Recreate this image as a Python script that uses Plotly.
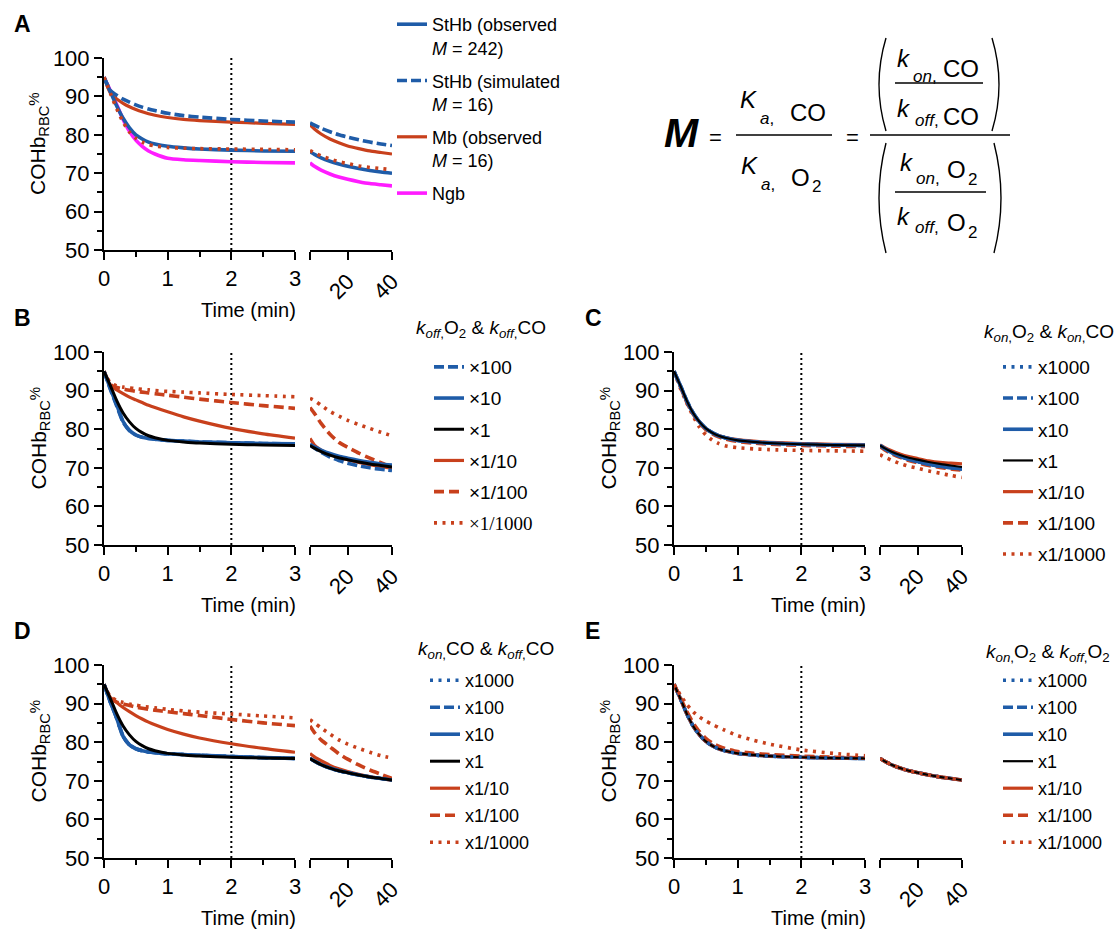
import plotly.graph_objects as go

# ---------------- data ----------------
T_SHORT = [0, 0.1, 0.2, 0.3, 0.4, 0.5, 0.6, 0.7, 0.8, 1.0, 1.25, 1.5, 2.0, 2.5, 3.0]
T_LONG = [3, 5, 8, 12, 16, 20, 25, 30, 35, 40]
REF_TIME = 2
Y_RANGE = [50, 100]
Y_TICKS = [50, 60, 70, 80, 90, 100]
Y_MINOR = [55, 65, 75, 85, 95]
X_TICKS_SHORT = [0, 1, 2, 3]
X_MINOR_SHORT = [0.5, 1.5, 2.5]
X_TICKS_LONG = [20, 40]
X_BREAK_TICK = [3]

# common x1 curve
BASE_S = [95, 91.3, 87.4, 84.2, 81.9, 80.2, 79.1, 78.3, 77.8, 77.1, 76.7, 76.4, 76.1, 75.9, 75.8]
BASE_L = [75.8, 75.1, 74.2, 73.3, 72.6, 72.1, 71.5, 71.0, 70.6, 70.2]

# panel A
A_OBS_S = [95, 91.2, 87.5, 84.3, 81.8, 80.0, 78.9, 78.1, 77.6, 77.0, 76.6, 76.3, 76.0, 75.8, 75.7]
A_OBS_L = [75.6, 74.9, 74.0, 73.1, 72.4, 71.8, 71.2, 70.7, 70.3, 70.0]
A_SIM_S = [95, 91.6, 90.3, 89.3, 88.5, 87.8, 87.2, 86.7, 86.3, 85.6, 85.0, 84.6, 84.0, 83.6, 83.3]
A_SIM_L = [83.1, 82.5, 81.7, 80.8, 80.0, 79.4, 78.7, 78.1, 77.6, 77.2]
A_MB_S = [95, 90.9, 89.3, 88.2, 87.3, 86.6, 86.0, 85.5, 85.1, 84.5, 84.0, 83.7, 83.3, 83.0, 82.7]
A_MB_L = [82.6, 81.5, 80.2, 78.9, 77.9, 77.1, 76.4, 75.8, 75.4, 75.0]
A_NGB_S = [95, 91.5, 87.8, 84.0, 80.9, 78.6, 77.0, 75.8, 75.0, 73.9, 73.5, 73.3, 73.0, 72.8, 72.7]
A_NGB_L = [72.7, 71.8, 70.8, 69.8, 69.0, 68.4, 67.8, 67.3, 67.0, 66.7]
A_DOT_S = [95, 90.8, 86.8, 83.3, 80.7, 79.1, 78.1, 77.5, 77.1, 76.7, 76.5, 76.4, 76.3, 76.2, 76.1]
A_DOT_L = [75.9, 75.3, 74.5, 73.7, 73.0, 72.5, 71.9, 71.5, 71.2, 70.9]

# panel B
B_X100_S = [95, 90.3, 86.0, 81.8, 79.6, 78.5, 77.9, 77.6, 77.4, 77.1, 76.9, 76.7, 76.5, 76.3, 76.2]
B_X100_L = [76.0, 75.1, 74.0, 72.8, 71.9, 71.2, 70.5, 70.0, 69.6, 69.3]
B_X10_S = [95, 90.5, 86.3, 82.0, 79.7, 78.5, 77.9, 77.6, 77.4, 77.1, 76.9, 76.7, 76.5, 76.3, 76.2]
B_X10_L = [76.1, 75.4, 74.6, 73.7, 73.0, 72.5, 71.9, 71.4, 71.0, 70.7]
B_X1_10_S = [95, 91.3, 90.2, 89.2, 88.3, 87.6, 86.9, 86.2, 85.6, 84.5, 83.2, 82.1, 80.2, 78.8, 77.7]
B_X1_10_L = [77.6, 75.9, 74.6, 73.5, 72.7, 72.1, 71.4, 70.8, 70.3, 69.9]
B_X1_100_S = [95, 91.6, 90.8, 90.4, 90.1, 89.8, 89.6, 89.4, 89.2, 88.8, 88.3, 87.8, 86.9, 86.1, 85.4]
B_X1_100_L = [85.6, 84.1, 81.5, 78.7, 76.6, 75.3, 73.8, 72.5, 71.3, 70.0]
B_X1_1000_S = [95, 92.0, 91.2, 90.9, 90.7, 90.5, 90.3, 90.2, 90.0, 89.8, 89.6, 89.4, 89.0, 88.7, 88.4]
B_X1_1000_L = [88.0, 87.4, 86.2, 84.6, 83.4, 82.3, 81.2, 80.2, 79.2, 78.3]

# panel C
C_BLUE_L = [75.8, 75.0, 74.0, 73.0, 72.2, 71.6, 70.9, 70.4, 70.0, 69.7]
C_X1_10_S = [95, 91.2, 87.3, 84.2, 81.9, 80.2, 79.1, 78.4, 77.9, 77.3, 76.9, 76.6, 76.3, 76.1, 76.0]
C_X1_10_L = [75.9, 75.3, 74.5, 73.6, 72.9, 72.4, 71.8, 71.4, 71.2, 71.0]
C_X1_100_S = [95, 91.0, 87.0, 83.9, 81.6, 79.9, 78.8, 78.0, 77.5, 76.8, 76.4, 76.1, 75.8, 75.6, 75.5]
C_X1_100_L = [75.5, 74.7, 73.7, 72.7, 71.9, 71.3, 70.6, 70.1, 69.7, 69.4]
C_X1_1000_S = [95, 90.6, 86.8, 83.4, 80.5, 78.5, 77.2, 76.3, 75.7, 75.2, 74.9, 74.7, 74.5, 74.4, 74.3]
C_X1_1000_L = [73.4, 72.8, 72.0, 71.1, 70.4, 69.9, 69.2, 68.6, 68.0, 67.5]

# panel D
D_BLUE_S = [95, 90.4, 86.2, 81.5, 79.3, 78.3, 77.8, 77.5, 77.3, 77.0, 76.8, 76.6, 76.3, 76.0, 75.8]
D_X1_10_S = [95, 91.6, 90.3, 89.0, 87.9, 86.9, 86.0, 85.2, 84.5, 83.3, 82.1, 81.1, 79.6, 78.4, 77.4]
D_X1_10_L = [77.1, 76.2, 75.2, 74.0, 73.1, 72.4, 71.7, 71.1, 70.6, 70.1]
D_X1_100_S = [95, 91.3, 90.4, 89.9, 89.5, 89.1, 88.8, 88.5, 88.3, 87.9, 87.4, 86.9, 85.9, 85.0, 84.3]
D_X1_100_L = [84.2, 82.5, 80.6, 78.8, 77.0, 75.6, 74.1, 72.8, 71.7, 70.6]
D_X1_1000_S = [95, 91.8, 90.8, 90.3, 89.9, 89.6, 89.3, 89.1, 88.9, 88.5, 88.1, 87.8, 87.3, 86.8, 86.3]
D_X1_1000_L = [85.8, 85.0, 83.7, 82.1, 80.6, 79.5, 78.4, 77.4, 76.5, 75.9]

# panel E
E_X1_100_S = [95, 91.5, 88.0, 85.0, 82.7, 81.0, 79.8, 79.0, 78.4, 77.6, 77.1, 76.8, 76.4, 76.1, 75.9]
E_X1_1000_S = [95, 92.2, 89.8, 87.9, 86.5, 85.5, 84.6, 83.8, 83.1, 81.7, 80.5, 79.5, 78.0, 77.1, 76.5]

# legend labels
A_NAMES = ["StHb (observed<br><i>M</i> = 242)", "StHb (simulated<br><i>M</i> = 16)",
           "Mb (observed<br><i>M</i> = 16)", "Ngb"]
B_NAMES = ["×100", "×10", "×1", "×1/10", "×1/100",
           "<span style='font-family:Liberation Serif'>×1/1000</span>"]
CDE_NAMES = ["x1000", "x100", "x10", "x1", "x1/10", "x1/100", "x1/1000"]

# ---------------- styling ----------------
FONT = "Liberation Sans, Arial, sans-serif"
W, H = 1119, 930
BLUE = "#1f5ca8"
RED = "#c8401c"
MAGENTA = "#ff1cff"
BLACK = "#000000"
STYLES = {
    "blue": dict(color=BLUE, width=3.6, dash="solid"),
    "blue_dash": dict(color=BLUE, width=3.6, dash="10px,4px"),
    "blue_dot": dict(color=BLUE, width=3.6, dash="3px,5.5px"),
    "red": dict(color=RED, width=3.2, dash="solid"),
    "red_dash": dict(color=RED, width=3.6, dash="10px,5px"),
    "red_dot": dict(color=RED, width=3.6, dash="3px,5.5px"),
    "black": dict(color=BLACK, width=3, dash="solid"),
    "black_thin": dict(color=BLACK, width=2.2, dash="solid"),
    "magenta": dict(color=MAGENTA, width=3.6, dash="solid"),
}


def px(x):
    return x / W


def py(y):
    return 1 - y / H


# pixel geometry of each panel: (seg1 x-span, seg2 x-span, y-span)
GEOM = {
    "A": ((104, 295), (310, 392), (58, 250)),
    "B": ((104, 295), (310, 392), (352, 545)),
    "C": ((674, 865), (880, 962), (352, 545)),
    "D": ((104, 295), (310, 392), (665, 858)),
    "E": ((674, 865), (880, 962), (665, 858)),
}

# series: (legend label or None, short, long, style, legend rank) in drawing order
SERIES = {
    "A": [
        (A_NAMES[3], A_NGB_S, A_NGB_L, "magenta", 4),
        (A_NAMES[2], A_MB_S, A_MB_L, "red", 3),
        (A_NAMES[1], A_SIM_S, A_SIM_L, "blue_dash", 2),
        (A_NAMES[0], A_OBS_S, A_OBS_L, "blue", 1),
        (None, A_DOT_S, A_DOT_L, "red_dot", 5),
    ],
    "B": [
        (B_NAMES[5], B_X1_1000_S, B_X1_1000_L, "red_dot", 6),
        (B_NAMES[4], B_X1_100_S, B_X1_100_L, "red_dash", 5),
        (B_NAMES[3], B_X1_10_S, B_X1_10_L, "red", 4),
        (B_NAMES[0], B_X100_S, B_X100_L, "blue_dash", 1),
        (B_NAMES[1], B_X10_S, B_X10_L, "blue", 2),
        (B_NAMES[2], BASE_S, BASE_L, "black", 3),
    ],
    "C": [
        (CDE_NAMES[6], C_X1_1000_S, C_X1_1000_L, "red_dot", 7),
        (CDE_NAMES[5], C_X1_100_S, C_X1_100_L, "red_dash", 6),
        (CDE_NAMES[4], C_X1_10_S, C_X1_10_L, "red", 5),
        (CDE_NAMES[2], BASE_S, C_BLUE_L, "blue", 3),
        (CDE_NAMES[1], BASE_S, C_BLUE_L, "blue_dash", 2),
        (CDE_NAMES[0], BASE_S, C_BLUE_L, "blue_dot", 1),
        (CDE_NAMES[3], BASE_S, BASE_L, "black_thin", 4),
    ],
    "D": [
        (CDE_NAMES[6], D_X1_1000_S, D_X1_1000_L, "red_dot", 7),
        (CDE_NAMES[5], D_X1_100_S, D_X1_100_L, "red_dash", 6),
        (CDE_NAMES[4], D_X1_10_S, D_X1_10_L, "red", 5),
        (CDE_NAMES[2], D_BLUE_S, BASE_L, "blue", 3),
        (CDE_NAMES[1], D_BLUE_S, BASE_L, "blue_dash", 2),
        (CDE_NAMES[0], D_BLUE_S, BASE_L, "blue_dot", 1),
        (CDE_NAMES[3], BASE_S, BASE_L, "black", 4),
    ],
    "E": [
        (CDE_NAMES[2], BASE_S, BASE_L, "blue", 3),
        (CDE_NAMES[1], BASE_S, BASE_L, "blue_dash", 2),
        (CDE_NAMES[4], BASE_S, BASE_L, "red", 5),
        (CDE_NAMES[5], E_X1_100_S, BASE_L, "red_dash", 6),
        (CDE_NAMES[3], BASE_S, BASE_L, "black_thin", 4),
        (CDE_NAMES[0], BASE_S, BASE_L, "blue_dot", 1),
        (CDE_NAMES[6], E_X1_1000_S, BASE_L, "red_dot", 7),
    ],
}

LEGENDS = {
    # name: (legend id, left px, top px, font size, group gap)
    "A": ("legend", 392, 6, 18, 6.5),
    "B": ("legend2", 429, 348, 19, 3.5),
    "C": ("legend3", 998, 348, 19, 3.5),
    "D": ("legend4", 425, 662, 18, 0.6),
    "E": ("legend5", 998, 662, 18, 0.6),
}


def xname(n):
    return "x" if n == 1 else f"x{n}"


def yname(n):
    return "y" if n == 1 else f"y{n}"


def lkey(prefix, n):
    return prefix if n == 1 else f"{prefix}{n}"


fig = go.Figure()
layout = dict(
    width=W, height=H, margin=dict(l=0, r=0, t=0, b=0),
    paper_bgcolor="white", plot_bgcolor="white", showlegend=True,
    font=dict(family=FONT, color="black"),
)

axis_common = dict(
    showline=True, linecolor="black", linewidth=2, ticks="outside", ticklen=8,
    tickwidth=2, tickcolor="black", showgrid=False, zeroline=False,
    tickfont=dict(family=FONT, size=22, color="black"), automargin=False,
    fixedrange=True,
)
minor_common = dict(ticks="outside", ticklen=5, tickwidth=2, tickcolor="black", showgrid=False)

annotations = []
shapes = []

for i, (panel, (xs1, xs2, ys)) in enumerate(GEOM.items()):
    nx1, nx2, ny = 2 * i + 1, 2 * i + 2, i + 1
    layout[lkey("xaxis", nx1)] = dict(
        axis_common, domain=[px(xs1[0]), px(xs1[1])], range=[T_SHORT[0], T_SHORT[-1]],
        tickvals=X_TICKS_SHORT, minor=dict(minor_common, tickvals=X_MINOR_SHORT),
        anchor=yname(ny),
    )
    layout[lkey("xaxis", nx2)] = dict(
        axis_common, domain=[px(xs2[0]), px(xs2[1])], range=[T_LONG[0], T_LONG[-1]],
        tickvals=X_TICKS_LONG, tickangle=-45,
        minor=dict(minor_common, tickvals=X_BREAK_TICK, ticklen=8),
        anchor=yname(ny),
    )
    layout[lkey("yaxis", ny)] = dict(
        axis_common, domain=[py(ys[1]), py(ys[0])], range=Y_RANGE,
        tickvals=Y_TICKS, minor=dict(minor_common, tickvals=Y_MINOR),
        anchor=xname(nx1),
    )

    leg_id, lx, ltop, lsize, lgap = LEGENDS[panel]
    layout[leg_id] = dict(
        x=px(lx), y=py(ltop), xanchor="left", yanchor="top",
        bgcolor="rgba(0,0,0,0)", borderwidth=0, traceorder="grouped",
        tracegroupgap=lgap, valign="top", itemclick=False, itemdoubleclick=False,
        font=dict(family=FONT, size=lsize, color="black"),
    )

    for name, ys_short, ys_long, style, rank in SERIES[panel]:
        st = STYLES[style]
        grp = f"{panel}{rank}"
        line = dict(color=st["color"], width=st["width"], dash=st["dash"],
                    shape="spline", smoothing=0.6)
        fig.add_trace(go.Scatter(
            x=T_SHORT, y=ys_short, mode="lines", line=line,
            xaxis=xname(nx1), yaxis=yname(ny), legend=leg_id,
            name=name or "extra", showlegend=name is not None, legendgroup=grp,
            legendrank=rank, hoverinfo="skip",
        ))
        fig.add_trace(go.Scatter(
            x=T_LONG, y=ys_long, mode="lines", line=line,
            xaxis=xname(nx2), yaxis=yname(ny), legend=leg_id,
            name=name or "extra", showlegend=False, legendgroup=grp,
            legendrank=rank, hoverinfo="skip",
        ))

    # dotted reference line at t = 2 min
    shapes.append(dict(
        type="line", xref=xname(nx1), yref=yname(ny), x0=REF_TIME, x1=REF_TIME,
        y0=Y_RANGE[0], y1=Y_RANGE[1], line=dict(color="black", width=2, dash="2px,3px"),
        layer="below",
    ))

    # axis titles
    xc = (xs1[0] + xs2[1]) / 2
    annotations.append(dict(
        text="Time (min)", x=px(xc), y=py(ys[1] + 60), xref="paper", yref="paper",
        showarrow=False, xanchor="center", yanchor="middle",
        font=dict(family=FONT, size=20, color="black"),
    ))
    annotations.append(dict(
        text="COHb<sub>RBC</sub><span style='font-size:15px;baseline-shift:6px'>%</span>",
        x=px(xs1[0] - 65), y=py((ys[0] + ys[1]) / 2 - 10), xref="paper", yref="paper",
        textangle=-90, showarrow=False, xanchor="center", yanchor="middle",
        font=dict(family=FONT, size=21, color="black"),
    ))

# panel letters
for letter, (lx, ly) in {"A": (12, 24), "B": (12, 318), "C": (583, 318),
                         "D": (12, 631), "E": (583, 631)}.items():
    annotations.append(dict(
        text=f"<b>{letter}</b>", x=px(lx), y=py(ly), xref="paper", yref="paper",
        showarrow=False, xanchor="left", yanchor="middle",
        font=dict(family=FONT, size=23, color="black"),
    ))

# legend titles
LEG_TITLES = {
    "B": ("<i>k</i><sub><i>off</i>,</sub>O<sub>2</sub> &amp; <i>k</i><sub><i>off</i>,</sub>CO", 414, 329),
    "C": ("<i>k</i><sub><i>on</i>,</sub>O<sub>2</sub> &amp; <i>k</i><sub><i>on</i>,</sub>CO", 982, 333),
    "D": ("<i>k</i><sub><i>on</i>,</sub>CO &amp; <i>k</i><sub><i>off</i>,</sub>CO", 416, 650),
    "E": ("<i>k</i><sub><i>on</i>,</sub>O<sub>2</sub> &amp; <i>k</i><sub><i>off</i>,</sub>O<sub>2</sub>", 984, 653),
}
for txt, lx, ly in LEG_TITLES.values():
    annotations.append(dict(
        text=txt, x=px(lx), y=py(ly), xref="paper", yref="paper", showarrow=False,
        xanchor="left", yanchor="middle", font=dict(family=FONT, size=19, color="black"),
    ))


# ---------------- equation ----------------
def eq_text(s, x, y, size, anchor="center"):
    annotations.append(dict(
        text=s, x=px(x), y=py(y), xref="paper", yref="paper", showarrow=False,
        xanchor=anchor, yanchor="middle", font=dict(family=FONT, size=size, color="black"),
    ))


def eq_line(x0, x1, y):
    shapes.append(dict(type="line", xref="paper", yref="paper", x0=px(x0), x1=px(x1),
                       y0=py(y), y1=py(y), line=dict(color="black", width=1.6)))


def eq_paren(x, y0, y1, bulge):
    ym = (y0 + y1) / 2
    path = f"M {px(x)},{py(y0)} Q {px(x + bulge)},{py(ym)} {px(x)},{py(y1)}"
    shapes.append(dict(type="path", xref="paper", yref="paper", path=path,
                       line=dict(color="black", width=1.4)))


eq_text("<b><i>M</i></b>", 681, 133, 41)
eq_text("=", 715, 137, 22)
eq_text("<i>K</i>", 748, 99, 24)
eq_text("<i>a</i>,", 767, 118, 17)
eq_text("CO", 808, 112, 24)
eq_line(736, 832, 135)
eq_text("<i>K</i>", 749, 165, 24)
eq_text("<i>a</i>,", 768, 184, 17)
eq_text("O", 800, 177, 24)
eq_text("2", 816, 187, 17)
eq_text("=", 852, 137, 22)
eq_line(870, 1010, 135)
# numerator
eq_paren(886, 38, 131, -14)
eq_paren(992, 38, 131, 14)
eq_text("<i>k</i>", 904, 58, 24)
eq_text("<i>on</i>,", 925, 76, 17)
eq_text("CO", 961, 68, 24)
eq_line(895, 983, 83)
eq_text("<i>k</i>", 904, 109, 24)
eq_text("<i>off</i>,", 927, 120, 17)
eq_text("CO", 961, 116, 24)
# denominator
eq_paren(886, 143, 253, -14)
eq_paren(994, 143, 253, 14)
eq_text("<i>k</i>", 907, 162, 24)
eq_text("<i>on</i>,", 928, 178, 17)
eq_text("O", 956, 169, 24)
eq_text("2", 972, 179, 17)
eq_line(895, 986, 192)
eq_text("<i>k</i>", 904, 216, 24)
eq_text("<i>off</i>,", 927, 227, 17)
eq_text("O", 956, 222, 24)
eq_text("2", 972, 233, 17)

layout["annotations"] = annotations
layout["shapes"] = shapes
fig.update_layout(**layout)
fig.write_html(
    "out.html",
    config={"displayModeBar": False, "staticPlot": True},
    post_script="document.body.style.margin='0';document.body.style.overflow='hidden';",
)
